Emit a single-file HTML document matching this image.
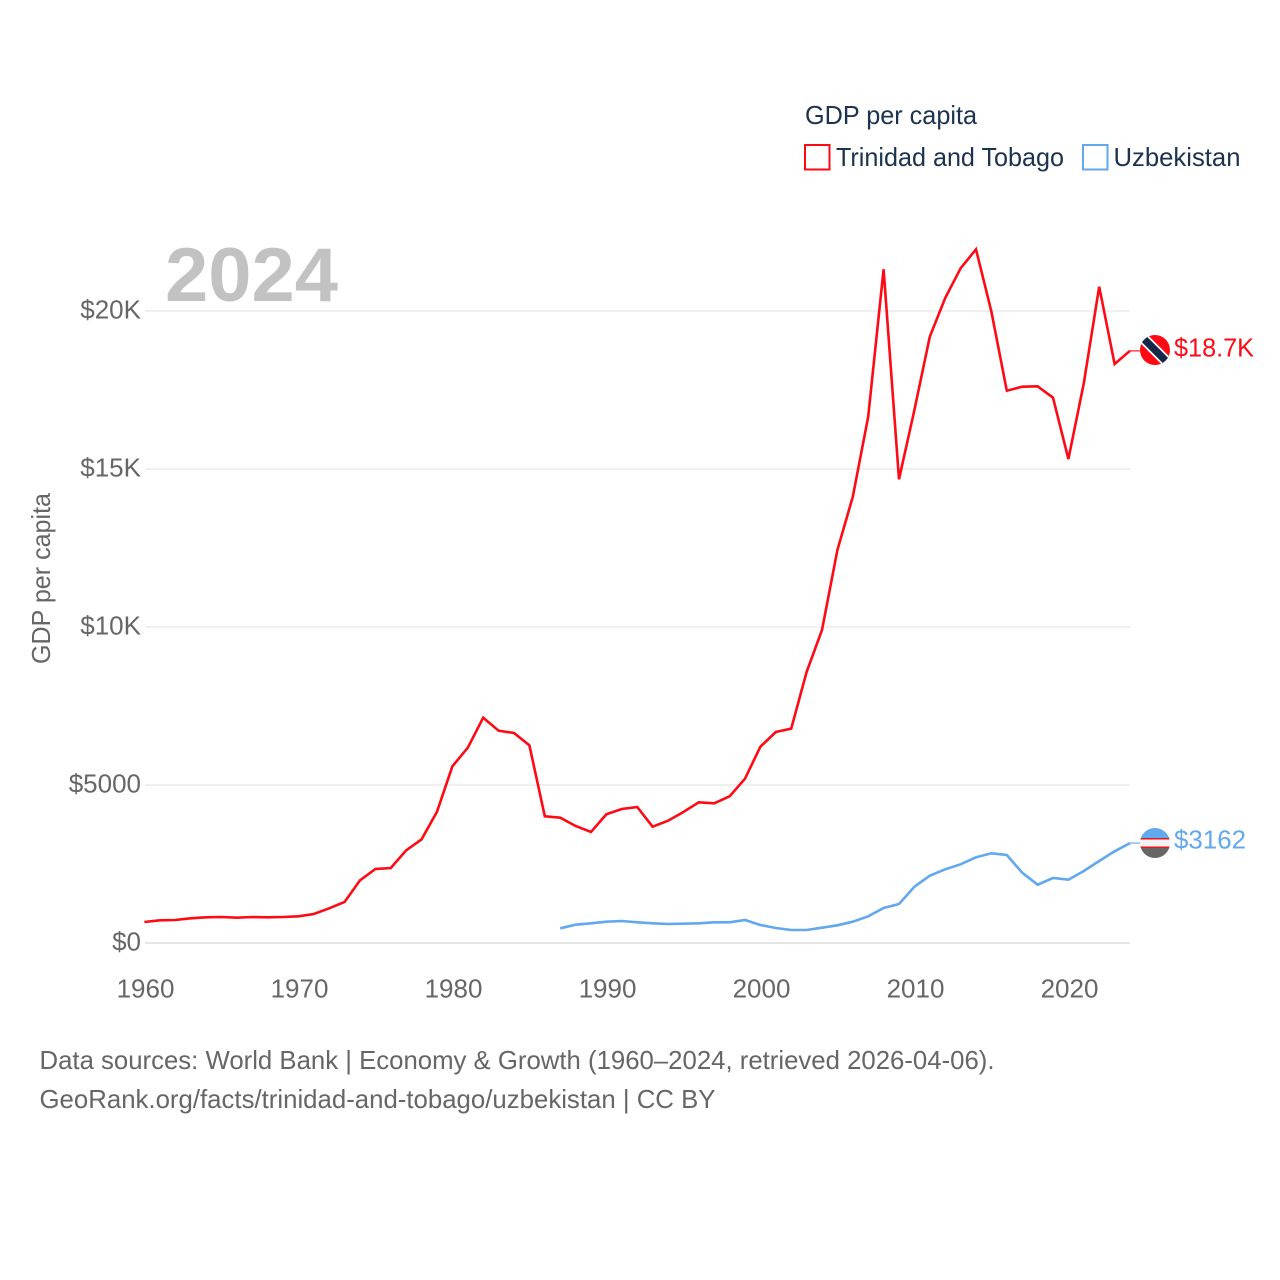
<!DOCTYPE html>
<html lang="en">
<head>
<meta charset="utf-8">
<title>GDP per capita: Trinidad and Tobago and Uzbekistan</title>
<style>
html,body{margin:0;padding:0;background:#fff;width:1280px;height:1280px;overflow:hidden}
svg{display:block;font-family:"Liberation Sans",sans-serif}
</style>
</head>
<body>
<svg id="chart" xmlns="http://www.w3.org/2000/svg" width="1280" height="1280" viewBox="0 0 1280 1280">
  <defs>
    <clipPath id="flag-clip-tt"><circle cx="1155" cy="350" r="15"/></clipPath>
    <clipPath id="flag-clip-uz"><circle cx="1155" cy="843" r="15"/></clipPath>
  </defs>
  <rect width="1280" height="1280" fill="#fff"/>
  <g id="grid"></g>
  <g id="yticks"></g>
  <g id="xticks"></g>
  <text transform="translate(50 664) rotate(-90)" font-size="26" fill="#666" textLength="171" lengthAdjust="spacingAndGlyphs">GDP per capita</text>
  <text x="165" y="301" font-size="76" font-weight="700" fill="#c2c2c2" textLength="173" lengthAdjust="spacingAndGlyphs">2024</text>

  <g>
    <text x="805" y="124" font-size="26" fill="#1b3350" textLength="172" lengthAdjust="spacingAndGlyphs">GDP per capita</text>
    <g>
      <rect x="805" y="145" width="24.5" height="24.5" fill="#fff" stroke="#ff0a14" stroke-width="2"/>
      <text x="836" y="166" font-size="26" fill="#1b3350" textLength="228" lengthAdjust="spacingAndGlyphs">Trinidad and Tobago</text>
    </g>
    <g>
      <rect x="1083" y="145" width="24.5" height="24.5" fill="#fff" stroke="#62a8ee" stroke-width="2"/>
      <text x="1113.5" y="166" font-size="26" fill="#1b3350" textLength="127" lengthAdjust="spacingAndGlyphs">Uzbekistan</text>
    </g>
  </g>

  <g id="series"></g>

  <g clip-path="url(#flag-clip-tt)">
    <rect x="1140" y="334" width="30" height="32" fill="#ff0a14"/>
    <line x1="1140" y1="335" x2="1170" y2="365" stroke="#fff" stroke-width="11"/>
    <line x1="1140" y1="335" x2="1170" y2="365" stroke="#14284a" stroke-width="7.5"/>
  </g>
  <g clip-path="url(#flag-clip-uz)">
    <rect x="1140" y="828" width="30" height="11" fill="#62a8ee"/>
    <rect x="1140" y="838" width="30" height="10" fill="#f2f2f2"/>
    <rect x="1140" y="838" width="30" height="1.5" fill="#e8141c"/>
    <rect x="1140" y="846.5" width="30" height="1.5" fill="#e8141c"/>
    <rect x="1140" y="848" width="30" height="10" fill="#666"/>
  </g>
  <g id="endlabels"></g>

  <g>
    <text x="39.5" y="1069" font-size="26" fill="#666" textLength="955" lengthAdjust="spacingAndGlyphs">Data sources: World Bank | Economy &amp; Growth (1960–2024, retrieved 2026-04-06).</text>
    <text x="39.5" y="1108" font-size="26" fill="#666" textLength="676" lengthAdjust="spacingAndGlyphs">GeoRank.org/facts/trinidad-and-tobago/uzbekistan | CC BY</text>
  </g>
</svg>
<script>
const yTickValues = [0, 5000, 10000, 15000, 20000];
const yTickLabels = ['$0', '$5000', '$10K', '$15K', '$20K'];
const xTickYears = [1960, 1970, 1980, 1990, 2000, 2010, 2020];
const ttStartYear = 1960;
const ttValues = [665,718,728,782,813,823,801,823,813,823,845,918,1098,1297,1984,2342,2373,2934,3282,4155,5592,6180,7130,6718,6646,6256,4010,3965,3703,3513,4073,4241,4304,3680,3870,4146,4453,4421,4642,5199,6212,6677,6782,8576,9905,12437,14124,16655,21320,14674,16867,19187,20412,21351,21953,19978,17478,17605,17617,17257,15317,17712,20769,18323,18740];
const uzStartYear = 1987;
const uzValues = [465,579,623,674,696,655,623,601,611,623,655,655,728,570,475,411,411,484,560,674,845,1108,1234,1782,2130,2332,2491,2712,2839,2785,2225,1845,2057,2003,2279,2595,2902,3162];

const NS = 'http://www.w3.org/2000/svg';
const xScale = function (year) { return 144.4 + (year - 1960) * 15.4; };
const yScale = function (value) { return 943 - value * 0.0316; };
const formatValue = function (v) {
  return v >= 10000 ? '$' + (v / 1000).toFixed(1) + 'K' : '$' + Math.round(v);
};
const make = function (tag, attrs, text) {
  const el = document.createElementNS(NS, tag);
  Object.keys(attrs).forEach(function (k) { el.setAttribute(k, attrs[k]); });
  if (text !== undefined) el.textContent = text;
  return el;
};

const grid = document.getElementById('grid');
const yticks = document.getElementById('yticks');
yTickValues.forEach(function (v, i) {
  const line = make('line', {x1: 145, x2: 1130, y1: yScale(v), y2: yScale(v), stroke: v === 0 ? '#e6e6e6' : '#ececec', 'stroke-width': v === 0 ? 2 : 1.6});
  
  
  grid.appendChild(line);
  const label = make('text', {x: 141, y: yScale(v) + 7.5, 'text-anchor': 'end', 'font-size': 26, fill: '#666'}, yTickLabels[i]);
  
  
  yticks.appendChild(label);
});

const xticks = document.getElementById('xticks');
xTickYears.forEach(function (year) {
  const label = make('text', {x: xScale(year) + 1.1, y: 997.5, 'text-anchor': 'middle', 'font-size': 26, fill: '#666'}, String(year));
  
  
  xticks.appendChild(label);
});

const seriesGroup = document.getElementById('series');
const endLabels = document.getElementById('endlabels');
const drawSeries = function (values, startYear, color, name) {
  const pts = values.map(function (v, i) {
    return xScale(startYear + i).toFixed(1) + ',' + yScale(v).toFixed(1);
  });
  const last = values[values.length - 1];
  const line = make('polyline', {points: pts.join(' '), fill: 'none', stroke: color, 'stroke-width': 2.6, 'stroke-linejoin': 'miter'});
  
  
  seriesGroup.appendChild(line);
  const connector = make('line', {x1: xScale(startYear + values.length - 1), x2: 1140, y1: yScale(last), y2: yScale(last), stroke: color, 'stroke-width': 1.6, opacity: 0.7});
  
  
  seriesGroup.appendChild(connector);
  const label = make('text', {x: 1174, y: yScale(last) + 5.5, 'font-size': 26, fill: color, lengthAdjust: 'spacingAndGlyphs', textLength: last >= 10000 ? 80 : 72}, formatValue(last));
  
  
  endLabels.appendChild(label);
};
drawSeries(ttValues, ttStartYear, '#ff0a14', 'trinidad-and-tobago');
drawSeries(uzValues, uzStartYear, '#62a8ee', 'uzbekistan');
</script>
</body>
</html>
